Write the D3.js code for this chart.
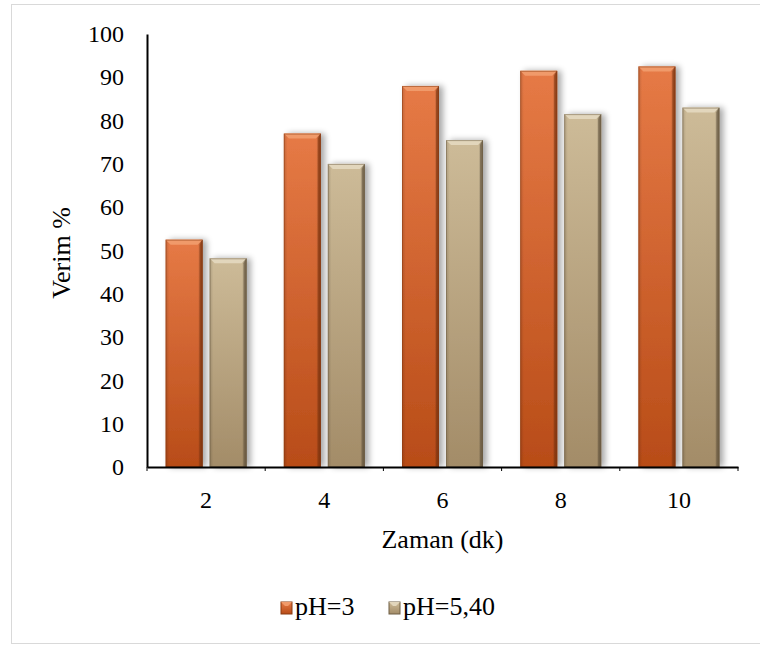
<!DOCTYPE html>
<html>
<head>
<meta charset="utf-8">
<script src="https://cdn.jsdelivr.net/npm/d3@7"></script>
<style>
  body { margin: 0; background: #fff; }
  text { font-family: "Liberation Serif", "Times New Roman", serif; fill: #000; }
</style>
</head>
<body>
<div id="chart"></div>
<script>
const categories = ['2', '4', '6', '8', '10'];
const seriesNames = ['pH=3', 'pH=5,40'];
const ph3 = [52.5, 77, 88, 91.5, 92.5];
const ph540 = [48.2, 70, 75.5, 81.5, 83];
const yTicks = [0, 10, 20, 30, 40, 50, 60, 70, 80, 90, 100];

const width = 760, height = 646;
const margin = { left: 147, right: 22, top: 34, bottom: 179 };
const serif = '"Liberation Serif", "Times New Roman", serif';

const svg = d3.select('#chart').append('svg')
    .attr('width', width)
    .attr('height', height);

// outer frame
svg.append('rect')
    .attr('x', 11.5).attr('y', 4.5)
    .attr('width', 760).attr('height', 639)
    .attr('fill', 'none')
    .attr('stroke', '#d9d9d9');

const defs = svg.append('defs');

const palettes = [
    { light: '#e67a46', mid: '#d2602a', dark: '#b84c18', edge: '#8a3a10', top: '#f09a6a' },
    { light: '#cdbb98', mid: '#b9a47e', dark: '#a38c68', edge: '#6e5e44', top: '#e2d6bc' }
];

palettes.forEach((p, i) => {
    const g = defs.append('linearGradient')
        .attr('id', 'body' + i)
        .attr('x1', 0).attr('y1', 0).attr('x2', 0).attr('y2', 1);
    g.append('stop').attr('offset', '0%').attr('stop-color', p.light);
    g.append('stop').attr('offset', '100%').attr('stop-color', p.dark);

    const s = defs.append('linearGradient')
        .attr('id', 'side' + i)
        .attr('x1', 0).attr('y1', 0).attr('x2', 1).attr('y2', 0);
    s.append('stop').attr('offset', '0%').attr('stop-color', '#000').attr('stop-opacity', 0.15);
    s.append('stop').attr('offset', '10%').attr('stop-color', '#000').attr('stop-opacity', 0);
    s.append('stop').attr('offset', '88%').attr('stop-color', '#000').attr('stop-opacity', 0);
    s.append('stop').attr('offset', '100%').attr('stop-color', '#000').attr('stop-opacity', 0.45);
});

const shadow = defs.append('filter')
    .attr('id', 'shadow')
    .attr('x', '-30%').attr('y', '-10%').attr('width', '160%').attr('height', '120%');
shadow.append('feGaussianBlur').attr('in', 'SourceAlpha').attr('stdDeviation', 3);
shadow.append('feOffset').attr('dx', 4).attr('dy', 0).attr('result', 'blur');
shadow.append('feComponentTransfer').append('feFuncA').attr('type', 'linear').attr('slope', 0.35);
const merge = shadow.append('feMerge');
merge.append('feMergeNode');
merge.append('feMergeNode').attr('in', 'SourceGraphic');

const x = d3.scaleBand()
    .domain(categories)
    .range([margin.left, width - margin.right]);

const y = d3.scaleLinear()
    .domain([0, 100])
    .range([height - margin.bottom, margin.top]);

const barW = 37, gap = 7;
const offset = (x.bandwidth() - (2 * barW + gap)) / 2;

const data = categories.map((c, i) => ({ cat: c, values: [ph3[i], ph540[i]] }));

const groups = svg.selectAll('.grp')
    .data(data)
    .join('g')
    .attr('class', 'grp')
    .attr('transform', d => `translate(${x(d.cat) + offset},0)`);

function drawBar(sel, si) {
    const p = palettes[si];
    sel.each(function(d) {
        const v = d.values[si];
        const g = d3.select(this).append('g')
            .attr('transform', `translate(${si * (barW + gap)},0)`);
        const top = y(v), bottom = y(0), h = bottom - top;
        const b = 5;
        g.append('rect')
            .attr('x', 0).attr('y', top)
            .attr('width', barW).attr('height', h)
            .attr('fill', `url(#body${si})`)
            .attr('filter', 'url(#shadow)');
        g.append('rect')
            .attr('x', 0).attr('y', top)
            .attr('width', barW).attr('height', h)
            .attr('fill', `url(#side${si})`);
        // top bevel
        g.append('path')
            .attr('d', `M0,${top} L${barW},${top} L${barW - b},${top + b} L${b},${top + b} Z`)
            .attr('fill', p.top);
        g.append('path')
            .attr('d', `M${barW},${top} L${barW},${bottom} L${barW - 3},${bottom} L${barW - 3},${top + b} Z`)
            .attr('fill', p.edge)
            .attr('opacity', 0.6);
        g.append('rect')
            .attr('x', 0.5).attr('y', top + 0.5)
            .attr('width', barW - 1).attr('height', h - 1)
            .attr('fill', 'none')
            .attr('stroke', p.edge)
            .attr('stroke-opacity', 0.5);
    });
}

drawBar(groups, 0);
drawBar(groups, 1);

// axes
const yAxis = svg.append('g')
    .attr('transform', `translate(${margin.left},0)`)
    .call(d3.axisLeft(y).tickValues(yTicks).tickSize(0).tickPadding(23));
yAxis.select('.domain').attr('stroke', '#000').attr('stroke-width', 2);
yAxis.selectAll('text')
    .style('font-family', serif)
    .style('font-size', '24px')
    .attr('fill', '#000');

const xAxis = svg.append('g')
    .attr('transform', `translate(0,${y(0)})`)
    .call(d3.axisBottom(x).tickSize(0).tickPadding(24));
xAxis.select('.domain').attr('stroke', '#000').attr('stroke-width', 2);
xAxis.selectAll('text')
    .style('font-family', serif)
    .style('font-size', '24px')
    .attr('fill', '#000');

// small boundary ticks
const bounds = categories.map(c => x(c)).concat([x.range()[1]]);
svg.append('g')
    .selectAll('line')
    .data(bounds)
    .join('line')
    .attr('x1', d => d).attr('x2', d => d)
    .attr('y1', y(0)).attr('y2', y(0) + 4)
    .attr('stroke', '#000').attr('stroke-width', 1);

svg.append('text')
    .attr('transform', `translate(70,253) rotate(-90)`)
    .attr('text-anchor', 'middle')
    .style('font-size', '26px')
    .text('Verim %');

svg.append('text')
    .attr('x', (margin.left + width - margin.right) / 2)
    .attr('y', 548)
    .attr('text-anchor', 'middle')
    .style('font-size', '26px')
    .text('Zaman (dk)');

// legend
const legendX = [281, 389];
const legend = svg.selectAll('.leg')
    .data(seriesNames)
    .join('g')
    .attr('class', 'leg')
    .attr('transform', (d, i) => `translate(${legendX[i]},602)`);
legend.append('rect')
    .attr('width', 11).attr('height', 12)
    .attr('fill', (d, i) => `url(#body${i})`)
    .attr('stroke', (d, i) => palettes[i].edge)
    .attr('stroke-width', 1);
legend.append('path')
    .attr('d', 'M0,0 L11,0 L7,4 L4,4 Z')
    .attr('fill', (d, i) => palettes[i].top);
legend.append('text')
    .attr('x', 14).attr('y', 13)
    .style('font-size', '26px')
    .text(d => d);
</script>
</body>
</html>
